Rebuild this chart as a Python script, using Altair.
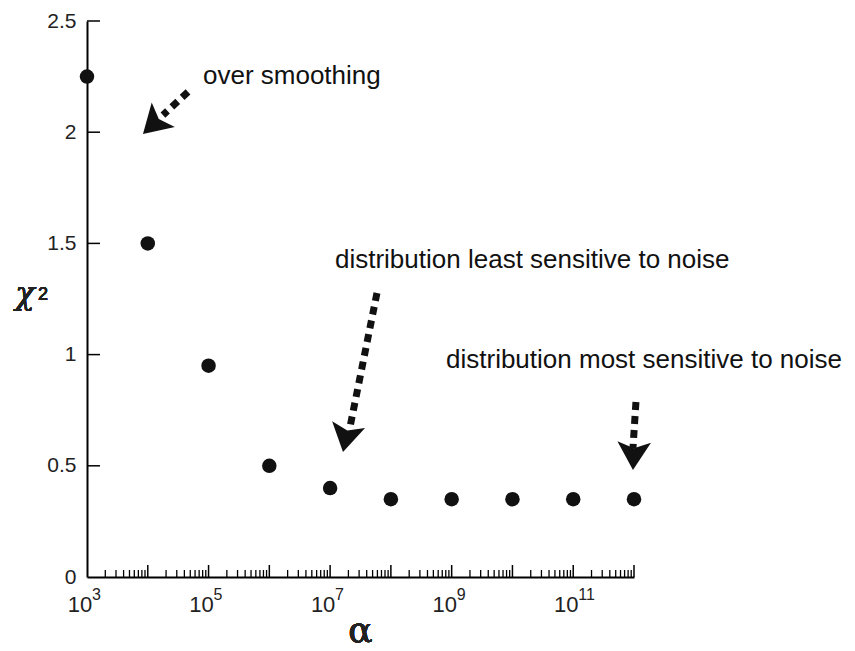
import altair as alt
import pandas as pd

# ---- data ----
alpha = [1e3, 1e4, 1e5, 1e6, 1e7, 1e8, 1e9, 1e10, 1e11, 1e12]
chi2 = [2.25, 1.5, 0.95, 0.5, 0.4, 0.35, 0.35, 0.35, 0.35, 0.35]

y_tick_values = [0, 0.5, 1, 1.5, 2, 2.5]
y_inner_ticks = [0.5, 1, 1.5, 2, 2.5]
x_label_exponents = [3, 5, 7, 9, 11]
x_major_ticks = [1e4, 1e5, 1e6, 1e7, 1e8, 1e9, 1e10, 1e11, 1e12]
x_minor_ticks = [k * 10.0 ** e for e in range(3, 12) for k in range(2, 10)]

note_text = ["over smoothing",
             "distribution least sensitive to noise",
             "distribution most sensitive to noise"]
note_alpha = [10 ** 4.908, 10 ** 7.080, 10 ** 8.907]
note_chi2 = [2.217, 1.389, 0.940]

arrow_start_alpha = [10 ** 4.662, 10 ** 7.771, 10 ** 12.032]
arrow_start_chi2 = [2.181, 1.277, 0.787]
arrow_neck_alpha = [10 ** 4.250, 10 ** 7.327, 10 ** 11.983]
arrow_neck_chi2 = [2.077, 0.674, 0.580]
arrow_tip_alpha = [10 ** 3.921, 10 ** 7.212, 10 ** 11.983]
arrow_tip_chi2 = [1.992, 0.562, 0.481]
arrow_angle = [226.5, 191.5, 182.5]

# ---- tables ----
pts = pd.DataFrame({"alpha": alpha, "chi2": chi2})
major = pd.DataFrame({"alpha": x_major_ticks})
minor = pd.DataFrame({"alpha": x_minor_ticks})
yt = pd.DataFrame({"chi2": y_inner_ticks})
xl = pd.DataFrame({"alpha": [10.0 ** e for e in x_label_exponents],
                   "exp": [str(e) for e in x_label_exponents]})
notes = pd.DataFrame({"alpha": note_alpha, "chi2": note_chi2, "text": note_text})
shafts = pd.DataFrame({"alpha": arrow_start_alpha, "chi2": arrow_start_chi2,
                       "alpha2": arrow_neck_alpha, "chi22": arrow_neck_chi2})
heads = pd.DataFrame({"alpha": arrow_tip_alpha, "chi2": arrow_tip_chi2,
                      "angle": arrow_angle})

xs = alt.Scale(type="log", domain=[1e3, 1e12], nice=False)
ys = alt.Scale(domain=[0, 2.5], nice=False, zero=False)
INK = "#111111"
FONT = "Liberation Sans"

X = lambda **kw: alt.X("alpha:Q", scale=xs, **kw)
Y = lambda **kw: alt.Y("chi2:Q", scale=ys, **kw)

points = alt.Chart(pts).mark_circle(size=210, color=INK, opacity=1).encode(
    x=X(axis=alt.Axis(labels=False, ticks=False, grid=False, domainColor="black",
                      domainWidth=2, title=None)),
    y=Y(axis=alt.Axis(values=y_tick_values, format="~g", ticks=False, grid=False,
                      domainColor="black", domainWidth=2, labelFontSize=21,
                      labelFont=FONT, labelColor="#222222", labelPadding=11,
                      title=None)),
)

major_ticks = alt.Chart(major).mark_tick(orient="vertical", size=12, thickness=1.5,
                                         yOffset=-6, color="black", opacity=1).encode(
    x=X(), y=alt.datum(0))
minor_ticks = alt.Chart(minor).mark_tick(orient="vertical", size=7, thickness=1.3,
                                         yOffset=-3.5, color="black", opacity=1).encode(
    x=X(), y=alt.datum(0))
y_ticks = alt.Chart(yt).mark_tick(orient="horizontal", size=13, thickness=1.5,
                                  xOffset=6.5, color="black", opacity=1).encode(
    y=Y(), x=alt.datum(1000))

ten = alt.Chart(xl).mark_text(text="10", fontSize=22, font=FONT, color="#222222",
                              align="center", dx=-7, dy=35, baseline="alphabetic").encode(
    x=X(), y=alt.datum(0))
expo = alt.Chart(xl).mark_text(fontSize=16, font=FONT, color="#222222",
                               align="left", dx=5, dy=23, baseline="alphabetic").encode(
    x=X(), y=alt.datum(0), text="exp:N")

note_marks = alt.Chart(notes).mark_text(fontSize=26, font=FONT, color=INK,
                                        align="left", baseline="alphabetic").encode(
    x=X(), y=Y(), text="text:N")

shaft_marks = alt.Chart(shafts).mark_rule(strokeWidth=7, strokeDash=[8, 6],
                                          color=INK, strokeCap="butt").encode(
    x=X(), y=Y(), x2="alpha2:Q", y2="chi22:Q")

head_path = "M0,0L0.6,1L0,0.78L-0.6,1Z"
head_marks = alt.Chart(heads).mark_point(shape=head_path, filled=True, size=3136,
                                         color=INK, opacity=1, strokeWidth=0).encode(
    x=X(), y=Y(), angle=alt.Angle("angle:Q", scale=None))

chi_title = alt.Chart(pts).mark_text(text="χ", fontSize=32, font="DejaVu Serif",
                                     fontStyle="italic", color="#222222",
                                     align="center", baseline="alphabetic").encode(
    x=alt.value(-62), y=alt.value(283))
chi_sup = alt.Chart(pts).mark_text(text="2", fontSize=18, font=FONT,
                                   color="#222222", align="left",
                                   baseline="alphabetic").encode(
    x=alt.value(-49), y=alt.value(279))
alpha_title = alt.Chart(pts).mark_text(text="α", fontSize=36, font="DejaVu Serif",
                                       color="#222222", align="center",
                                       baseline="bottom").encode(
    x=alt.value(273.5), y=alt.value(629))

chart = alt.layer(
    minor_ticks, major_ticks, y_ticks, ten, expo, shaft_marks, head_marks,
    note_marks, points, chi_title, chi_sup, alpha_title,
).properties(
    width=547, height=556,
    autosize=alt.AutoSizeParams(type="none"),
    padding={"left": 87, "top": 21, "right": 221, "bottom": 74},
    background="white",
).configure_view(stroke=None)

chart.save("out.html", embed_options={"renderer": "svg", "actions": False})
